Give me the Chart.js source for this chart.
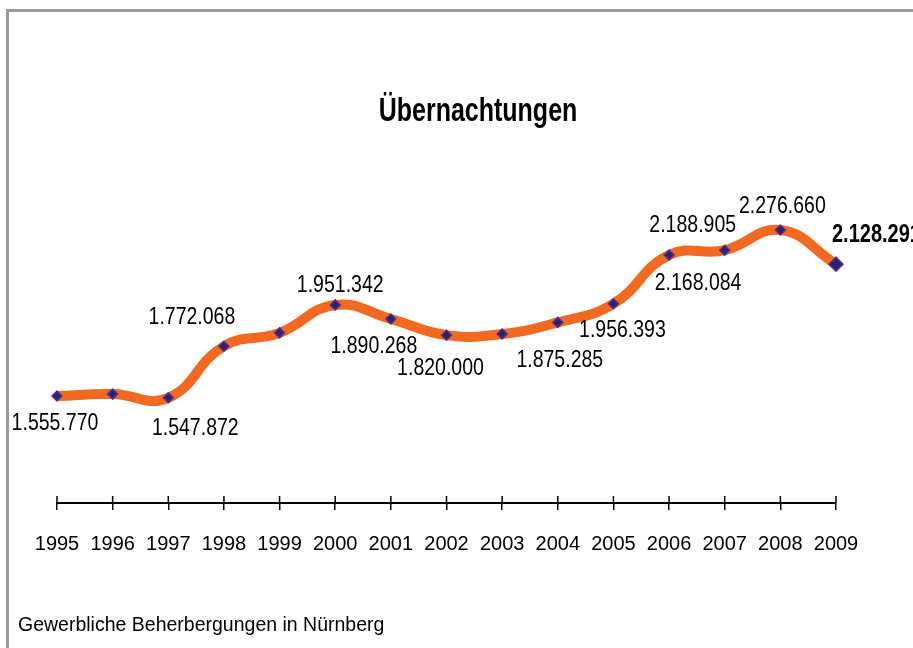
<!DOCTYPE html>
<html>
<head>
<meta charset="utf-8">
<script src="https://cdn.jsdelivr.net/npm/chart.js@4"></script>
<style>
    body { margin: 0; background: #fff; }
    #wrap { position: relative; width: 913px; height: 648px; overflow: hidden; font-family: "Liberation Sans", Arial, sans-serif; }
    #frame { position: absolute; left: 6px; top: 9px; right: 0; bottom: 0; border-top: 3px solid #9a9a9a; border-left: 3px solid #9a9a9a; }
    #title { position: absolute; left: 0; width: 956px; top: 95px; text-align: center; font-weight: bold; font-size: 25px; color: #000; transform: scaleY(1.3); }
    #note { position: absolute; left: 18px; top: 612px; font-size: 19.5px; color: #000; transform: scaleY(1.08); }
    canvas { position: absolute; left: 0; top: 0; }
</style>
</head>
<body>
<div id="wrap">
    <div id="frame"></div>
    <canvas id="chart" width="913" height="648"></canvas>
    <div id="title">Übernachtungen</div>
    <div id="note">Gewerbliche Beherbergungen in Nürnberg</div>
</div>
<script>
const years = ['1995', '1996', '1997', '1998', '1999', '2000', '2001', '2002', '2003', '2004', '2005', '2006', '2007', '2008', '2009'];
const overnightStays = [1555770, 1564000, 1547872, 1772068, 1830000, 1951342, 1890268, 1820000, 1825000, 1875285, 1956393, 2168084, 2188905, 2276660, 2128291];
const shownLabels = [true, false, true, true, false, true, true, true, false, true, true, true, true, true, true];

// label offset from its point (dx, dy), only placement
const labelOffsets = [[-2, 27], null, [27, 30], [-32, -29], null, [5, -20], [-17, 27], [-6, 33], null, [2, 38], [9, 27], [29, 28], [-32, -25], [2, -24], [-4, -29]];

const fmt = v => v.toLocaleString('de-DE');
const lastIdx = overnightStays.length - 1;

const valueLabels = {
    id: 'valueLabels',
    afterDatasetsDraw(chart) {
        const ctx = chart.ctx;
        const meta = chart.getDatasetMeta(0);
        meta.data.forEach((pt, i) => {
            if (!shownLabels[i]) return;
            const off = labelOffsets[i];
            ctx.save();
            ctx.fillStyle = '#000';
            ctx.textBaseline = 'middle';
            if (i === lastIdx) {
                ctx.font = 'bold 20px "Liberation Sans", Arial, sans-serif';
                ctx.textAlign = 'left';
            } else {
                ctx.font = '19.5px "Liberation Sans", Arial, sans-serif';
                ctx.textAlign = 'center';
            }
            // the reference text is a bit taller than wide
            ctx.translate(pt.x + off[0], pt.y + off[1]);
            ctx.scale(1, 1.25);
            ctx.fillText(fmt(overnightStays[i]), 0, 0);
            ctx.restore();
        });
    }
};

// ticks reach above the axis line too
const upTicks = {
    id: 'upTicks',
    afterDraw(chart) {
        const x = chart.scales.x;
        const ctx = chart.ctx;
        const y = chart.chartArea.bottom;
        ctx.save();
        ctx.strokeStyle = '#000';
        ctx.lineWidth = 1.5;
        years.forEach((_, i) => {
            const px = x.getPixelForValue(i);
            ctx.beginPath();
            ctx.moveTo(px, y - 7);
            ctx.lineTo(px, y);
            ctx.stroke();
        });
        ctx.restore();
    }
};

Chart.defaults.font.family = '"Liberation Sans", Arial, sans-serif';

new Chart(document.getElementById('chart'), {
    type: 'line',
    data: {
        labels: years,
        datasets: [{
            data: overnightStays,
            borderColor: '#f26a22',
            borderWidth: 10,
            tension: 0.45,
            pointStyle: 'rectRot',
            pointRadius: overnightStays.map((_, i) => i === lastIdx ? 7 : 5),
            pointBackgroundColor: '#26246e',
            pointBorderColor: '#5b2d86',
            pointBorderWidth: 1.5,
            clip: false
        }]
    },
    options: {
        responsive: false,
        animation: false,
        layout: { padding: { left: 57, right: 77, top: 40, bottom: 70 } },
        plugins: { legend: { display: false }, tooltip: { enabled: false } },
        scales: {
            y: { display: false, min: 1091000, max: 3102000 },
            x: {
                offset: false,
                grid: { display: true, drawOnChartArea: false, drawTicks: true, tickLength: 7, color: '#000', lineWidth: 1.5 },
                border: { display: true, color: '#000', width: 2 },
                ticks: { color: '#000', font: { size: 20 }, padding: 22, autoSkip: false, maxRotation: 0 }
            }
        }
    },
    plugins: [valueLabels, upTicks]
});
</script>
</body>
</html>
